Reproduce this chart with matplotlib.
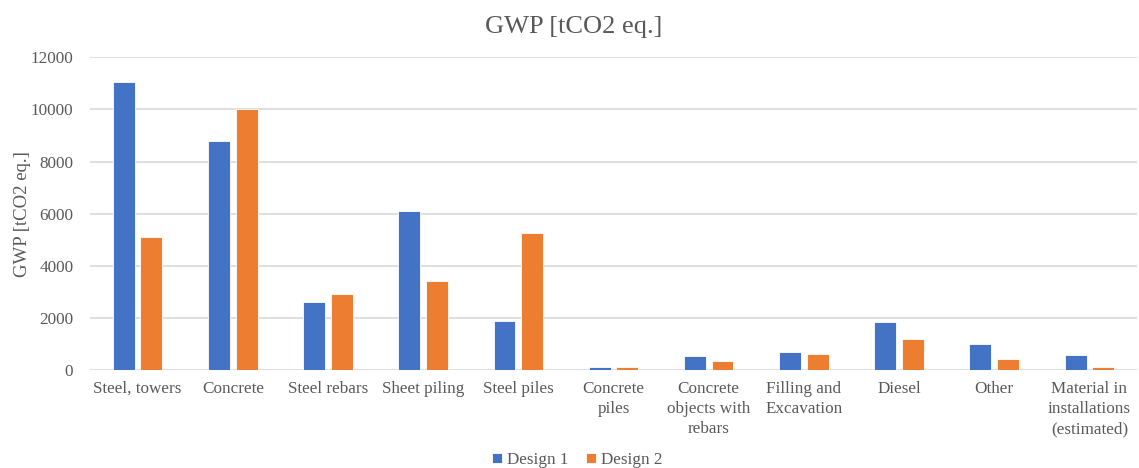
import matplotlib
matplotlib.use("Agg")
import matplotlib.pyplot as plt
import numpy as np

categories = ["Steel, towers", "Concrete", "Steel rebars", "Sheet piling", "Steel piles",
              "Concrete\npiles", "Concrete\nobjects with\nrebars", "Filling and\nExcavation",
              "Diesel", "Other", "Material in\ninstallations\n(estimated)"]
design1 = [11050, 8800, 2600, 6120, 1870, 130, 550, 700, 1840, 985, 575]
design2 = [5120, 10000, 2920, 3420, 5260, 120, 345, 625, 1175, 420, 100]
yticks = [0, 2000, 4000, 6000, 8000, 10000, 12000]

plt.rcParams['font.family'] = ['Liberation Serif', 'DejaVu Serif']
txt = '#595959'

fig = plt.figure(figsize=(11.39, 4.68), dpi=100)
ax = fig.add_axes([90/1139, 1-370/468, 1047/1139, (370-57.3)/468])

x = np.arange(len(categories))
w = 0.23
off = 0.145
ax.bar(x - off, design1, w, color='#4472C4', edgecolor='white', linewidth=0.6, label='Design 1', zorder=3)
ax.bar(x + off, design2, w, color='#ED7D31', edgecolor='white', linewidth=0.6, label='Design 2', zorder=3)

ax.set_xlim(-0.5, len(categories) - 0.5)
ax.set_ylim(0, 12000)
ax.set_yticks(yticks)
ax.set_yticklabels([str(v) for v in yticks], fontsize=12.3, color=txt)
ax.set_xticks(x)
ax.set_xticklabels(categories, fontsize=12.3, color=txt, va='top', linespacing=1.33)
ax.tick_params(axis='both', length=0)
ax.tick_params(axis='x', pad=8)
ax.tick_params(axis='y', pad=12)
ax.grid(axis='y', color='#d9d9d9', linewidth=1.2, zorder=0)
for s in ax.spines.values():
    s.set_visible(False)

ax.set_ylabel('GWP [tCO2 eq.]', fontsize=13.5, color=txt, labelpad=0)
fig.text(574/1139, 1-27/468, 'GWP [tCO2 eq.]', ha='center', va='center', fontsize=19, color=txt)

fig.legend(loc='center', bbox_to_anchor=(577/1139, 1-460/468), ncol=2, frameon=False,
           fontsize=12.3, handlelength=0.6, handleheight=0.6, handletextpad=0.3,
           columnspacing=1.0, labelcolor=txt)

fig.savefig('out.png', dpi=100, facecolor='white')
